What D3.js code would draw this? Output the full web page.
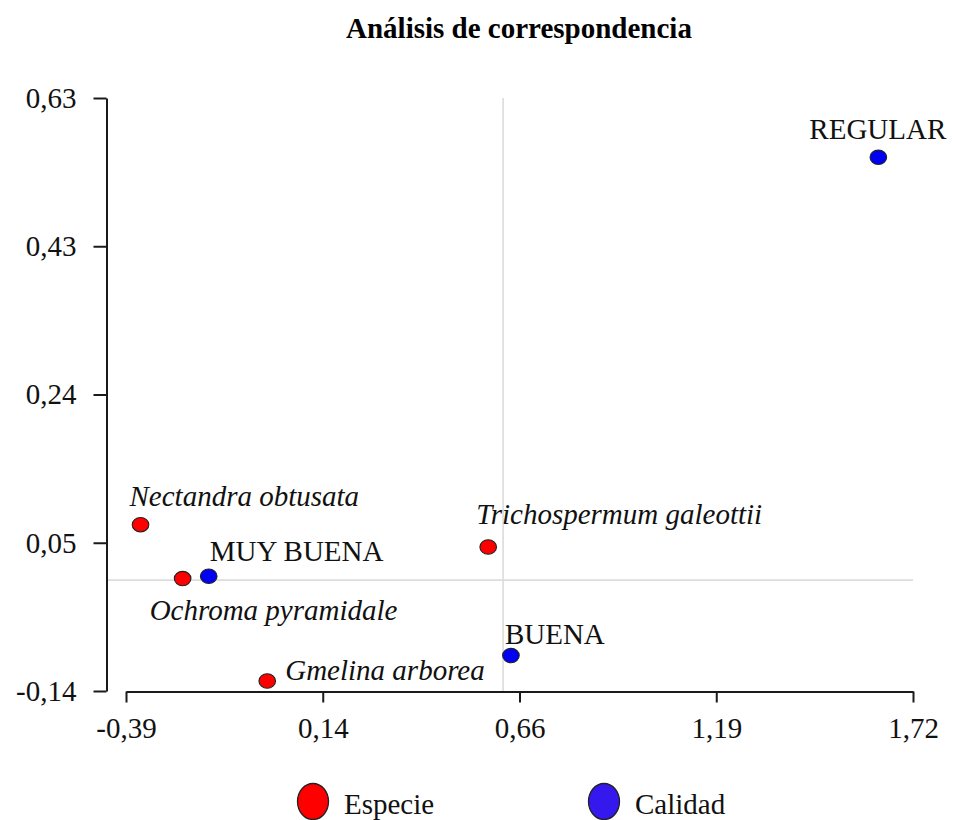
<!DOCTYPE html>
<html>
<head>
<meta charset="utf-8">
<script src="https://cdn.jsdelivr.net/npm/d3@7"></script>
<style>
  svg text { font-family: 'Liberation Serif' !important; }
</style>
</head>
<body style="margin:0">
<div id="chart"></div>
<script>
// values
var names   = ["Nectandra obtusata", "Ochroma pyramidale", "Trichospermum galeottii", "Gmelina arborea",
               "MUY BUENA", "BUENA", "REGULAR"];
var groups  = ["Especie", "Especie", "Especie", "Especie", "Calidad", "Calidad", "Calidad"];
var xValues = [-0.353, -0.240, 0.580, -0.013, -0.170, 0.641, 1.627];
var yValues = [0.072, 0.002, 0.043, -0.131, 0.005, -0.098, 0.549];

var xTickLabels = ["-0,39", "0,14", "0,66", "1,19", "1,72"];
var yTickLabels = ["-0,14", "0,05", "0,24", "0,43", "0,63"];
var xDomain = [-0.392, 1.72];
var yDomain = [-0.144, 0.626];
var refX = 0.62, refY = 0;

var legendNames = ["Especie", "Calidad"];

// label placement (pixels from the point)
var labelOffsets = [[-11, -19], [-33, 41], [-12, -23], [18, -1], [1, -15], [-6, -12], [-69, -18]];

var width = 954, height = 820;
var fontName = "Liberation Serif";
var fill = { "Especie": "#ff0000", "Calidad": "#0000f5" };
var legendFill = { "Especie": "#ff0000", "Calidad": "#3418ee" };

var svg = d3.select("#chart").append("svg")
    .attr("width", width)
    .attr("height", height)
    .attr("font-family", fontName);

var x = d3.scaleLinear().domain(xDomain).range([126, 913]);
var y = d3.scaleLinear().domain(yDomain).range([691, 98]);

var xTicks = d3.range(5).map(function(i) { return xDomain[0] + i * (xDomain[1] - xDomain[0]) / 4; });
var yTicks = d3.range(5).map(function(i) { return yDomain[0] + i * (yDomain[1] - yDomain[0]) / 4; });

// title
svg.append("text")
    .attr("x", 519)
    .attr("y", 38)
    .attr("text-anchor", "middle")
    .attr("font-family", fontName)
    .attr("font-size", 29)
    .attr("font-weight", "bold")
    .text("Análisis de correspondencia");

// reference lines
svg.append("line")
    .attr("x1", 107).attr("x2", x(xDomain[1]))
    .attr("y1", y(refY)).attr("y2", y(refY))
    .attr("stroke", "#dcdcdc").attr("stroke-width", 1.6);
svg.append("line")
    .attr("x1", x(refX)).attr("x2", x(refX))
    .attr("y1", y(yDomain[1])).attr("y2", y(yDomain[0]))
    .attr("stroke", "#dcdcdc").attr("stroke-width", 1.6);

// axes
var xAxis = svg.append("g")
    .attr("transform", "translate(0,691.5)")
    .call(d3.axisBottom(x)
        .tickValues(xTicks)
        .tickSize(11)
        .tickSizeOuter(0)
        .tickPadding(15)
        .tickFormat(function(d, i) { return xTickLabels[i]; }));

var yAxis = svg.append("g")
    .attr("transform", "translate(106.5,0)")
    .call(d3.axisLeft(y)
        .tickValues(yTicks)
        .tickSize(13)
        .tickSizeOuter(0)
        .tickPadding(17)
        .tickFormat(function(d, i) { return yTickLabels[i]; }));

[xAxis, yAxis].forEach(function(a) {
  a.attr("font-family", fontName).attr("font-size", 29);
  a.selectAll("path, line").attr("stroke", "#1a1a1a").attr("stroke-width", 2);
  a.selectAll("text")
      .attr("font-family", fontName)
      .attr("font-size", 29)
      .attr("fill", "#111");
});

// points
var data = names.map(function(n, i) {
  return { name: n, group: groups[i], x: xValues[i], y: yValues[i], off: labelOffsets[i] };
});

svg.append("g").selectAll("ellipse")
    .data(data)
    .enter()
      .append("ellipse")
      .attr("cx", function(d) { return x(d.x); })
      .attr("cy", function(d) { return y(d.y); })
      .attr("rx", 8.3)
      .attr("ry", 7.2)
      .attr("fill", function(d) { return fill[d.group]; })
      .attr("stroke", "#222")
      .attr("stroke-width", 1.1);

svg.append("g").selectAll("text")
    .data(data)
    .enter()
      .append("text")
      .attr("x", function(d) { return x(d.x) + d.off[0]; })
      .attr("y", function(d) { return y(d.y) + d.off[1]; })
      .attr("font-family", fontName)
      .attr("font-size", 29)
      .attr("font-style", function(d) { return d.group == "Especie" ? "italic" : "normal"; })
      .attr("fill", "#111")
      .text(function(d) { return d.name; });

// legend
var legend = svg.append("g").selectAll("g")
    .data(legendNames)
    .enter()
      .append("g")
      .attr("transform", function(d, i) { return "translate(" + (313 + i * 291) + ",801.5)"; });

legend.append("ellipse")
    .attr("rx", 15.5)
    .attr("ry", 18)
    .attr("fill", function(d) { return legendFill[d]; })
    .attr("stroke", "#222")
    .attr("stroke-width", 1.3);

legend.append("text")
    .attr("x", 31)
    .attr("y", 12.5)
    .attr("font-family", fontName)
    .attr("font-size", 29)
    .attr("fill", "#111")
    .text(function(d) { return d; });
</script>
</body>
</html>
